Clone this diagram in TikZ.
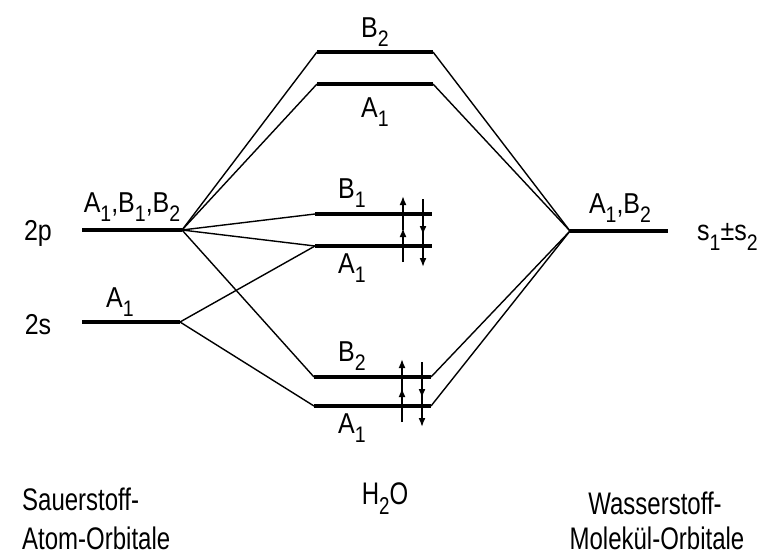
\documentclass[tikz,border=0pt]{standalone}
\usepackage{fontspec}
\usepackage{graphicx}
\setmainfont{Liberation Sans}
\usetikzlibrary{arrows.meta}
% lowered, slightly reduced index digit
\newcommand{\ix}[1]{\raisebox{-0.32em}{\scalebox{0.78}{#1}}}
% tall lettering
\newcommand{\tall}[2]{\scalebox{1}[#1]{#2}}
\begin{document}
\begin{tikzpicture}[x=1pt,y=-1pt,
  level/.style={line width=4.5pt},
  link/.style={line width=1.4pt},
  spin/.style={line width=1.7pt,-{Latex[length=9pt,width=7pt]}},
  lbl/.style={font=\fontsize{25}{28}\selectfont,inner sep=0pt},
  colcaption/.style={font=\fontsize{24}{27}\selectfont,inner sep=0pt}]
\useasboundingbox (0,0) rectangle (773,557);

% energy levels: left / right ends
\coordinate (pL) at (82,230);  \coordinate (pR) at (182,230);
\coordinate (sL) at (82,322);  \coordinate (sR) at (180,322);
\coordinate (b2tL) at (317,52);  \coordinate (b2tR) at (433,52);
\coordinate (a1tL) at (317,84);  \coordinate (a1tR) at (433,84);
\coordinate (b1L) at (315,214);  \coordinate (b1R) at (432,214);
\coordinate (a1mL) at (315,246); \coordinate (a1mR) at (432,246);
\coordinate (b2lL) at (314,377); \coordinate (b2lR) at (431,377);
\coordinate (a1lL) at (314,406); \coordinate (a1lR) at (431,406);
\coordinate (hL) at (570,231);   \coordinate (hR) at (668,231);

\foreach \n in {p,s,b2t,a1t,b1,a1m,b2l,a1l,h}
  \draw[level] (\n L) -- (\n R);

% correlation lines
\foreach \t in {b2tL,a1tL,b1L,a1mL,b2lL}
  \draw[link] (pR) -- (\t);
\foreach \t in {a1mL,a1lL}
  \draw[link] (sR) -- (\t);
\foreach \t in {b2tR,a1tR,b2lR,a1lR}
  \draw[link] (hL) -- (\t);

% electron pairs (spin up, spin down)
\foreach \n in {b1,a1m,b2l,a1l}{
  \draw[spin] ([xshift=-29pt,yshift=-16pt]\n R) -- ([xshift=-29pt,yshift=18pt]\n R);
  \draw[spin] ([xshift=-9pt,yshift=15pt]\n R) -- ([xshift=-9pt,yshift=-21pt]\n R);
}

% level labels
\node[lbl] (tB2) at (375,32) {\tall{1.15}{B\ix{2}}};
\node[lbl] (tA1) at (375,112) {\tall{1.15}{A\ix{1}}};
\node[lbl] (mB1) at (352,193) {\tall{1.15}{B\ix{1}}};
\node[lbl] (mA1) at (352,268) {\tall{1.15}{A\ix{1}}};
\node[lbl] (lB2) at (352,356) {\tall{1.15}{B\ix{2}}};
\node[lbl] (lA1) at (352,428) {\tall{1.15}{A\ix{1}}};
\node[lbl] (pSym) at (132,207) {\tall{1.15}{A\ix{1},B\ix{1},B\ix{2}}};
\node[lbl] (sSym) at (120,302) {\tall{1.15}{A\ix{1}}};
\node[lbl] (hSym) at (620,208) {\tall{1.15}{A\ix{1},B\ix{2}}};
\node[lbl] (p2) at (38,233) {\tall{1.15}{2p}};
\node[lbl] (s2) at (38,325) {\tall{1.15}{2s}};
\node[lbl,anchor=west] (ss) at (697,237) {\tall{1.15}{s\ix{1}±s\ix{2}}};

% column captions
\node[colcaption,anchor=west] (o1) at (22,499) {\tall{1.3}{Sauerstoff-}};
\node[colcaption,anchor=west] (o2) at (22,538) {\tall{1.3}{Atom-Orbitale}};
\node[colcaption] (w) at (385,499) {\tall{1.3}{H\ix{2}O}};
\node[colcaption] (h1) at (655,503) {\tall{1.3}{Wasserstoff-}};
\node[colcaption] (h2) at (657,538) {\tall{1.3}{Molekül-Orbitale}};
\end{tikzpicture}
\end{document}
